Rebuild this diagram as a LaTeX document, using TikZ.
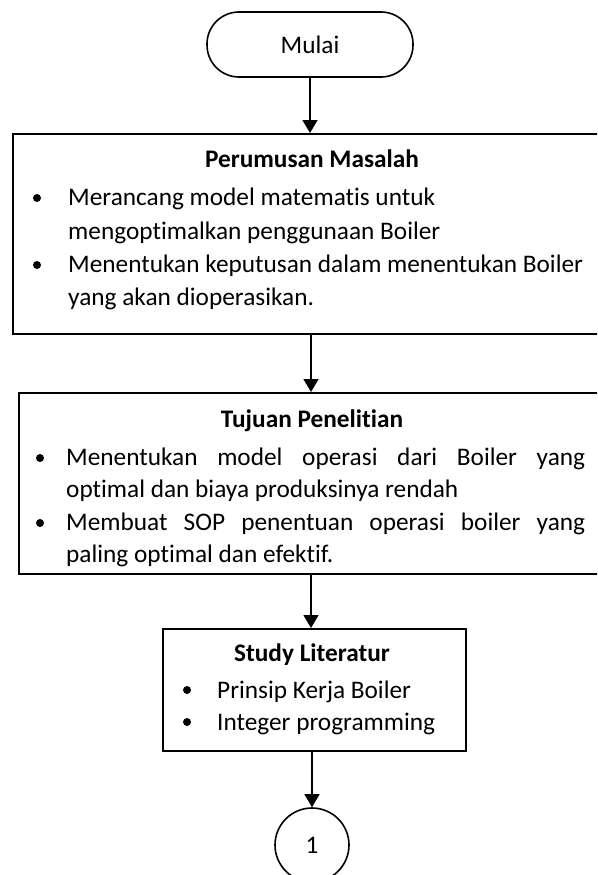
\documentclass[tikz,border=0pt]{standalone}
\usepackage{fontspec}
\setmainfont{Carlito}[Ligatures=NoCommon]
\usetikzlibrary{arrows.meta}
\begin{document}
\begin{tikzpicture}[x=1pt,y=-1pt,
  box/.style={draw,line width=1.6pt,inner sep=0pt},
  body/.style={font=\fontsize{25.3}{33}\selectfont},
  txt/.style={body,anchor=base west,inner sep=0pt},
  head/.style={anchor=base,inner sep=0pt,font=\fontsize{25.3}{33}\selectfont\bfseries},
  flow/.style={line width=1.5pt,-{Triangle[length=13pt,width=15pt]}},
  dot/.style={circle,fill,inner sep=0pt,minimum size=8pt}
]
\useasboundingbox (0,0) rectangle (597,875);
\clip (0,0) rectangle (597,875);

% start terminator
\node[box,body,rounded corners=32pt,minimum width=206pt,minimum height=65pt] (mulai) at (310,44.5) {Mulai};

% process boxes
\node[box,anchor=north west,minimum width=598pt,minimum height=200pt] (rumusan) at (12,133) {};
\node[box,anchor=north west,minimum width=592pt,minimum height=181pt] (tujuan) at (18,392) {};
\node[box,anchor=north west,minimum width=303pt,minimum height=122pt] (studi) at (162,628) {};

% off-page connector
\node[draw,line width=1.6pt,circle,minimum size=74pt,inner sep=0pt,body] (sambung) at (312,845) {1};

% box 1 text
\node[head] (h1) at (312,167) {Perumusan Masalah};
\node[dot] (b11) at (37,198) {};
\node[dot] (b12) at (37,265) {};
\node[txt] (t11) at (68,205) {Merancang model matematis untuk};
\node[txt] (t12) at (68,239) {mengoptimalkan penggunaan Boiler};
\node[txt] (t13) at (68,272) {Menentukan keputusan dalam menentukan Boiler};
\node[txt] (t14) at (68,305) {yang akan dioperasikan.};

% box 2 text
\node[head] (h2) at (312,427) {Tujuan Penelitian};
\node[dot] (b21) at (40,458) {};
\node[dot] (b22) at (40,523) {};
\node[txt] (t21) at (66,465) {\makebox[519pt][s]{Menentukan model operasi dari Boiler yang}};
\node[txt] (t22) at (66,497) {optimal dan biaya produksinya rendah};
\node[txt] (t23) at (66,530) {\makebox[519pt][s]{Membuat SOP penentuan operasi boiler yang}};
\node[txt] (t24) at (66,562) {paling optimal dan efektif.};

% box 3 text
\node[head] (h3) at (312,661) {Study Literatur};
\node[dot] (b31) at (187,690) {};
\node[dot] (b32) at (187,722) {};
\node[txt] (t31) at (217,698) {Prinsip Kerja Boiler};
\node[txt] (t32) at (217,730) {Integer programming};

% connectors
\coordinate (axis) at (311,0);
\draw[flow] (mulai.south) -- (mulai.south |- rumusan.north);
\draw[flow] (axis |- rumusan.south) -- (axis |- tujuan.north);
\draw[flow] (axis |- tujuan.south) -- (axis |- studi.north);
\draw[flow] (sambung.north |- studi.south) -- (sambung.north);
\end{tikzpicture}
\end{document}
